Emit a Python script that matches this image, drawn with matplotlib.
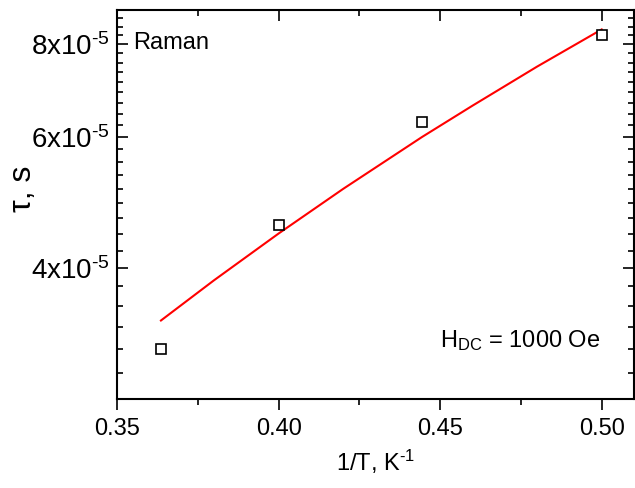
import numpy as np
import matplotlib
matplotlib.use("Agg")
import matplotlib.pyplot as plt
from matplotlib.ticker import FixedLocator, FuncFormatter, NullFormatter

plt.rcParams["font.family"] = ["Liberation Sans", "DejaVu Sans"]
plt.rcParams["mathtext.fontset"] = "custom"
plt.rcParams["mathtext.rm"] = "Liberation Sans"
plt.rcParams["mathtext.it"] = "Liberation Sans:italic"
plt.rcParams["mathtext.bf"] = "Liberation Sans:bold"

# measured relaxation times
inv_T = [0.3636, 0.4000, 0.4444, 0.5000]
tau = [3.11e-5, 4.57e-5, 6.28e-5, 8.22e-5]

# Raman fit curve
fit_inv_T = [0.3636, 0.38, 0.40, 0.42, 0.4444, 0.46, 0.48, 0.50]
fit_tau = [3.40e-5, 3.85e-5, 4.45e-5, 5.11e-5, 6.00e-5, 6.61e-5, 7.46e-5, 8.37e-5]

x_major = [0.35, 0.40, 0.45, 0.50]
x_minor = [0.375, 0.425, 0.475]
y_major = [4e-5, 6e-5, 8e-5]

fig = plt.figure(figsize=(6.35, 4.88), dpi=100)
ax = fig.add_axes([117 / 635, 1 - 399 / 488, 517 / 635, 389 / 488])

ax.plot(fit_inv_T, fit_tau, color="#ff0000", lw=1.5, zorder=2)
ax.plot(inv_T, tau, ls="none", marker="s", ms=7, mfc="white", mec="black",
        mew=1.2, zorder=3)

ax.set_yscale("log")
ax.set_xlim(0.35, 0.51)
ax.set_ylim(8e-5 / 3, 8e-5 / 0.9)

ax.xaxis.set_major_locator(FixedLocator(x_major))
ax.xaxis.set_minor_locator(FixedLocator(x_minor))
ax.xaxis.set_major_formatter(FuncFormatter(lambda v, p: f"{v:.2f}"))

step = 2e-5 / 9
y_minor = [4e-5 + k * step for k in range(-6, 23) if k % 9 != 0]
ax.yaxis.set_major_locator(FixedLocator(y_major))
ax.yaxis.set_minor_locator(FixedLocator(y_minor))
ax.yaxis.set_minor_formatter(NullFormatter())
ax.yaxis.set_major_formatter(
    FuncFormatter(lambda v, p: r"%dx10$^{\text{-5}}$" % round(v * 1e5)))

for s in ax.spines.values():
    s.set_linewidth(1.5)

ax.tick_params(axis="x", which="both", direction="out", top=True,
               labelsize=17, width=1.2, pad=6)
ax.tick_params(axis="y", which="both", direction="in", right=True,
               labelsize=20, width=1.2, pad=5)
ax.tick_params(which="major", length=8)
ax.tick_params(which="minor", length=4)
# top ticks point into the frame
for t in ax.xaxis.get_major_ticks() + ax.xaxis.get_minor_ticks():
    t.tick2line.set_marker(matplotlib.lines.TICKDOWN)

ax.set_xlabel("1/T, K$^{\\text{-1}}$", fontsize=17, labelpad=5)
ax.set_ylabel("τ, s", fontsize=23, va="center")
ax.yaxis.set_label_coords(-0.182, 0.54)

ax.text(0.032, 0.915, "Raman", transform=ax.transAxes, fontsize=17,
        va="center", ha="left")
ax.text(0.935, 0.15, "H$_{\\mathregular{DC}}$ = 1000 Oe",
        transform=ax.transAxes, fontsize=17, va="center", ha="right")

fig.savefig("out.png", dpi=100)
